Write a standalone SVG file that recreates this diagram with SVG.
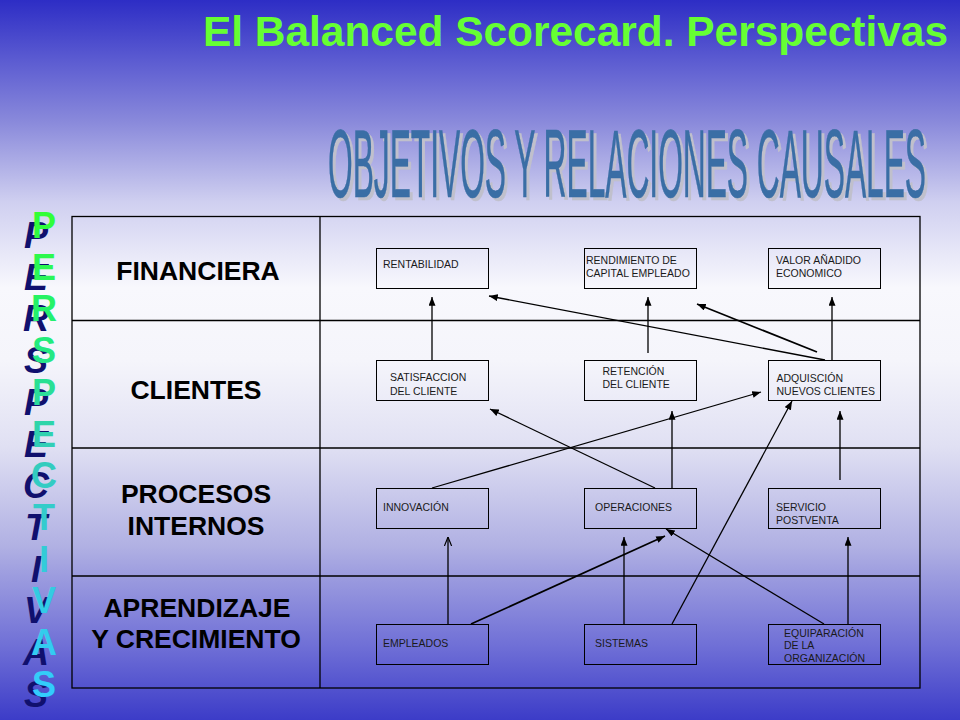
<svg xmlns="http://www.w3.org/2000/svg" width="960" height="720" viewBox="0 0 960 720">
<defs>
<linearGradient id="bg" x1="0" y1="0" x2="0" y2="1">
<stop offset="0" stop-color="#2d2dc5"/>
<stop offset="0.083" stop-color="#5b5bd1"/>
<stop offset="0.17" stop-color="#8a8adb"/>
<stop offset="0.28" stop-color="#cfcff0"/>
<stop offset="0.4" stop-color="#f8f8fd"/>
<stop offset="0.5" stop-color="#f5f5fb"/>
<stop offset="0.62" stop-color="#e0e0f3"/>
<stop offset="0.76" stop-color="#b0b0e3"/>
<stop offset="0.8" stop-color="#9c9cdf"/>
<stop offset="0.9" stop-color="#6e6ed6"/>
<stop offset="1" stop-color="#3c3cc8"/>
</linearGradient>
<linearGradient id="vg" gradientUnits="userSpaceOnUse" x1="0" y1="210" x2="0" y2="700">
<stop offset="0" stop-color="#33ff33"/>
<stop offset="0.25" stop-color="#22ee77"/>
<stop offset="0.5" stop-color="#33ccbb"/>
<stop offset="1" stop-color="#33ccff"/>
</linearGradient>
<marker id="arr" viewBox="0 0 10 8" refX="10" refY="4" markerWidth="9" markerHeight="7" markerUnits="userSpaceOnUse" orient="auto">
<path d="M0,0 L10,4 L0,8 z" fill="#000"/>
</marker>
<marker id="open" viewBox="0 0 10 10" refX="10" refY="5" markerWidth="9" markerHeight="9" markerUnits="userSpaceOnUse" orient="auto">
<path d="M0,1 L10,5 L0,9" fill="none" stroke="#000" stroke-width="1.3"/>
</marker>
</defs>
<style>
.title{font-family:"Liberation Sans",Arial,sans-serif;font-weight:bold;font-size:42px;fill:#66ff33}
.sub{font-family:"Liberation Sans",Arial,sans-serif;font-size:97px;stroke-width:0.6}
.vg{font-family:"Liberation Sans",Arial,sans-serif;font-weight:bold;font-size:36px;text-anchor:middle;fill:url(#vg)}
.vd{font-family:"Liberation Sans",Arial,sans-serif;font-weight:bold;font-style:italic;font-size:36px;text-anchor:middle;fill:#10106e}
.grid{fill:none;stroke:#000;stroke-width:1.3}
.lab{font-family:"Liberation Sans",Arial,sans-serif;font-weight:bold;font-size:26.5px;text-anchor:middle;fill:#000}
.box{fill:none;stroke:#000;stroke-width:1}
.nt{font-family:"Liberation Sans",Arial,sans-serif;font-size:10.5px;fill:#1a1a1a}
.c{stroke:#000;stroke-width:1.3;fill:none;marker-end:url(#arr)}
.ct{stroke:#000;stroke-width:1.7;fill:none;marker-end:url(#arr)}
</style>
<rect x="0" y="0" width="960" height="720" fill="url(#bg)"/>
<text class="title" x="203" y="46" textLength="745" lengthAdjust="spacingAndGlyphs">El Balanced Scorecard. Perspectivas</text>
<text class="sub" x="331" y="200" fill="#c0c0cc" stroke="#c0c0cc" textLength="598" lengthAdjust="spacingAndGlyphs">OBJETIVOS Y RELACIONES CAUSALES</text>
<text class="sub" x="328" y="197" fill="#3a6ea5" stroke="#3a6ea5" textLength="598" lengthAdjust="spacingAndGlyphs">OBJETIVOS Y RELACIONES CAUSALES</text>
<g id="vertical-shadow">
<text class="vd" x="36" y="248">P</text>
<text class="vd" x="36" y="289.7">E</text>
<text class="vd" x="36" y="331.4">R</text>
<text class="vd" x="36" y="373.1">S</text>
<text class="vd" x="36" y="414.8">P</text>
<text class="vd" x="36" y="456.5">E</text>
<text class="vd" x="36" y="498.2">C</text>
<text class="vd" x="36" y="539.9">T</text>
<text class="vd" x="36" y="581.6">I</text>
<text class="vd" x="36" y="623.3">V</text>
<text class="vd" x="36" y="665">A</text>
<text class="vd" x="36" y="706.7">S</text>
</g>
<g id="vertical-front">
<text class="vg" x="44" y="238">P</text>
<text class="vg" x="44" y="279.7">E</text>
<text class="vg" x="44" y="321.4">R</text>
<text class="vg" x="44" y="363.1">S</text>
<text class="vg" x="44" y="404.8">P</text>
<text class="vg" x="44" y="446.5">E</text>
<text class="vg" x="44" y="488.2">C</text>
<text class="vg" x="44" y="529.9">T</text>
<text class="vg" x="44" y="571.6">I</text>
<text class="vg" x="44" y="613.3">V</text>
<text class="vg" x="44" y="655">A</text>
<text class="vg" x="44" y="696.7">S</text>
</g>
<g id="table">
<rect class="grid" x="72" y="216.5" width="848" height="471.5"/>
<line class="grid" x1="320" y1="216.5" x2="320" y2="688"/>
<line class="grid" x1="72" y1="320.5" x2="920" y2="320.5"/>
<line class="grid" x1="72" y1="448" x2="920" y2="448"/>
<line class="grid" x1="72" y1="576" x2="920" y2="576"/>
<text class="lab" x="198" y="280">FINANCIERA</text>
<text class="lab" x="196" y="399">CLIENTES</text>
<text class="lab" x="196" y="503">PROCESOS</text>
<text class="lab" x="196" y="535">INTERNOS</text>
<text class="lab" x="197" y="617">APRENDIZAJE</text>
<text class="lab" x="196" y="648">Y CRECIMIENTO</text>
</g>
<g id="connectors">
<line class="c" x1="432" y1="360" x2="432" y2="297"/>
<line class="c" x1="648" y1="353" x2="648" y2="297"/>
<line class="c" x1="832" y1="360" x2="832" y2="297"/>
<line class="c" x1="825" y1="360" x2="489" y2="296"/>
<line class="ct" x1="817" y1="352" x2="697" y2="304"/>
<line class="c" x1="655" y1="488" x2="490" y2="409"/>
<line class="c" x1="672" y1="488" x2="672" y2="411"/>
<line class="c" x1="432" y1="488" x2="761" y2="392"/>
<line class="c" x1="840" y1="480" x2="840" y2="411"/>
<line class="c" x1="672" y1="624" x2="792" y2="401"/>
<line stroke="#000" stroke-width="1.3" fill="none" marker-end="url(#open)" x1="448" y1="624" x2="448" y2="537"/>
<line class="ct" x1="471" y1="624" x2="665" y2="536"/>
<line class="c" x1="624" y1="624" x2="624" y2="537"/>
<line class="c" x1="824" y1="624" x2="666" y2="529"/>
<line class="c" x1="848" y1="624" x2="848" y2="537"/>
</g>
<g id="n-rentabilidad"><rect class="box" x="376.5" y="248.5" width="112" height="40"/><text class="nt" x="383" y="268">RENTABILIDAD</text></g>
<g id="n-rendimiento"><rect class="box" x="584.5" y="248.5" width="112" height="40"/><text class="nt" x="586" y="263.5">RENDIMIENTO DE</text><text class="nt" x="586" y="277">CAPITAL EMPLEADO</text></g>
<g id="n-valor"><rect class="box" x="768.5" y="248.5" width="112" height="40"/><text class="nt" x="776" y="263.5">VALOR AÑADIDO</text><text class="nt" x="776" y="277">ECONOMICO</text></g>
<g id="n-satisfaccion"><rect class="box" x="376.5" y="360.5" width="112" height="40"/><text class="nt" x="390" y="381">SATISFACCION</text><text class="nt" x="390" y="394.5">DEL CLIENTE</text></g>
<g id="n-retencion"><rect class="box" x="584.5" y="360.5" width="112" height="40"/><text class="nt" x="602.5" y="375">RETENCIÓN</text><text class="nt" x="602.5" y="388">DEL CLIENTE</text></g>
<g id="n-adquiscion"><rect class="box" x="768.5" y="360.5" width="112" height="40"/><text class="nt" x="776.5" y="381.5">ADQUISCIÓN</text><text class="nt" x="776.5" y="395">NUEVOS CLIENTES</text></g>
<g id="n-innovacion"><rect class="box" x="376.5" y="488.5" width="112" height="40"/><text class="nt" x="383" y="510.5">INNOVACIÓN</text></g>
<g id="n-operaciones"><rect class="box" x="584.5" y="488.5" width="112" height="40"/><text class="nt" x="595" y="510.5">OPERACIONES</text></g>
<g id="n-servicio"><rect class="box" x="768.5" y="488.5" width="112" height="40"/><text class="nt" x="776" y="510.5">SERVICIO</text><text class="nt" x="776" y="523.5">POSTVENTA</text></g>
<g id="n-empleados"><rect class="box" x="376.5" y="624.5" width="112" height="40"/><text class="nt" x="383" y="647">EMPLEADOS</text></g>
<g id="n-sistemas"><rect class="box" x="584.5" y="624.5" width="112" height="40"/><text class="nt" x="595" y="647">SISTEMAS</text></g>
<g id="n-equiparacion"><rect class="box" x="768.5" y="624.5" width="112" height="40"/><text class="nt" x="784" y="636.5">EQUIPARACIÓN</text><text class="nt" x="784" y="649">DE LA</text><text class="nt" x="784" y="661.5">ORGANIZACIÓN</text></g>
</svg>
